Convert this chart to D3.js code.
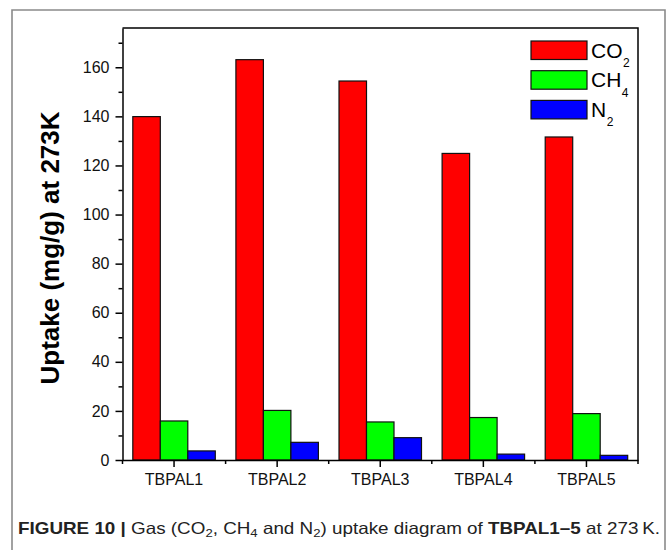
<!DOCTYPE html>
<html>
<head>
<meta charset="utf-8">
<script src="https://cdn.jsdelivr.net/npm/d3@7"></script>
<style>
  html, body { margin: 0; padding: 0; background: #fff; }
  svg { display: block; }
</style>
</head>
<body>
<svg id="chart" width="669" height="550"></svg>
<script>
// Gas uptake (mg/g) at 273 K for each sample
const categories = ["TBPAL1", "TBPAL2", "TBPAL3", "TBPAL4", "TBPAL5"];
const seriesKeys = ["CO2", "CH4", "N2"];
const co2Values = [139.9, 163.1, 154.4, 124.9, 131.6];
const ch4Values = [15.9, 20.2, 15.5, 17.3, 18.9];
const n2Values  = [3.7, 7.2, 9.1, 2.4, 1.9];
const seriesColors = ["#ff0000", "#00ff00", "#0000ff"];
const legendNames = [["CO", "2"], ["CH", "4"], ["N", "2"]];
const yMajorTicks = [0, 20, 40, 60, 80, 100, 120, 140, 160];
const yMinorTicks = [10, 30, 50, 70, 90, 110, 130, 150, 170];
const yTitle = "Uptake (mg/g) at 273K";

const valuesByKey = { CO2: co2Values, CH4: ch4Values, N2: n2Values };

const svg = d3.select("#chart");
const plot = { left: 122.5, right: 638, top: 28, bottom: 460 };

// Figure frame (open at the bottom)
svg.append("path")
  .attr("d", "M12,552 L12,10 L665,10 L665,552")
  .attr("fill", "none")
  .attr("stroke", "#8a8a8a")
  .attr("stroke-width", 1.6);

const x = d3.scaleBand().domain(categories).range([plot.left, plot.right]).padding(0);
const xSub = d3.scaleBand().domain(seriesKeys).range([0, x.bandwidth()])
  .paddingInner(0).paddingOuter(0.375);
const y = d3.scaleLinear().domain([0, 176]).range([plot.bottom, plot.top]);

// Bars
const groups = svg.append("g").selectAll("g")
  .data(categories)
  .join("g")
  .attr("transform", d => `translate(${x(d)},0)`);

groups.selectAll("rect")
  .data((d, i) => seriesKeys.map((k, j) => ({ key: k, value: valuesByKey[k][i], color: seriesColors[j] })))
  .join("rect")
  .attr("x", d => xSub(d.key))
  .attr("width", xSub.bandwidth())
  .attr("y", d => y(d.value))
  .attr("height", d => y(0) - y(d.value))
  .attr("fill", d => d.color)
  .attr("stroke", "#111")
  .attr("stroke-width", 1.2);

// Plot frame: top and right edges
svg.append("path")
  .attr("d", `M${plot.left},${plot.top} L${plot.right},${plot.top} L${plot.right},${plot.bottom}`)
  .attr("fill", "none")
  .attr("stroke", "#000")
  .attr("stroke-width", 1.5);

const tickFont = "'Liberation Sans', Arial, sans-serif";

// Y axis: major ticks with labels, minor ticks between
svg.append("g")
  .attr("transform", `translate(${plot.left},0)`)
  .call(d3.axisLeft(y).tickValues(yMajorTicks).tickSize(7).tickSizeOuter(0).tickPadding(6));
svg.append("g")
  .attr("transform", `translate(${plot.left},0)`)
  .call(d3.axisLeft(y).tickValues(yMinorTicks).tickSize(4).tickSizeOuter(0).tickFormat(""))
  .call(g => g.select(".domain").remove());

// X axis: category ticks with labels, minor ticks at group boundaries
svg.append("g")
  .attr("transform", `translate(0,${plot.bottom})`)
  .call(d3.axisBottom(x).tickSize(7).tickSizeOuter(0).tickPadding(7));
const boundaries = categories.map(c => x(c)).concat([x.range()[1]]);
svg.append("g")
  .attr("transform", `translate(0,${plot.bottom})`)
  .selectAll("line")
  .data(boundaries)
  .join("line")
  .attr("x1", d => d).attr("x2", d => d)
  .attr("y1", 0).attr("y2", 4)
  .attr("stroke", "#000").attr("stroke-width", 1.5);

svg.selectAll(".tick line").attr("stroke", "#000").attr("stroke-width", 1.5);
svg.selectAll(".domain").attr("stroke", "#000").attr("stroke-width", 1.5);
svg.selectAll(".tick text")
  .attr("font-family", tickFont)
  .attr("font-size", 16)
  .attr("fill", "#111");

// Y axis title
svg.append("text")
  .attr("transform", "translate(59,248) rotate(-90)")
  .attr("text-anchor", "middle")
  .attr("font-family", tickFont)
  .attr("font-weight", "bold")
  .attr("font-size", 26)
  .attr("fill", "#000")
  .text(yTitle);

// Legend
const legend = svg.append("g").attr("transform", "translate(531,41)");
const legendRows = legend.selectAll("g")
  .data(seriesKeys)
  .join("g")
  .attr("transform", (d, i) => `translate(0,${i * 29.7})`);
legendRows.append("rect")
  .attr("width", 56).attr("height", 18.5)
  .attr("fill", (d, i) => seriesColors[i])
  .attr("stroke", "#111").attr("stroke-width", 1.2);
const legendText = legendRows.append("text")
  .attr("x", 60).attr("y", 16.5)
  .attr("font-family", tickFont)
  .attr("font-size", 21)
  .attr("fill", "#000");
legendText.append("tspan").text((d, i) => legendNames[i][0]);
legendText.append("tspan")
  .attr("font-size", 12).attr("dy", 9.5).attr("dx", 0.5)
  .text((d, i) => legendNames[i][1]);

// Figure caption
const cap = svg.append("text")
  .attr("x", 18).attr("y", 534)
  .attr("font-family", tickFont)
  .attr("font-size", 16.5)
  .attr("fill", "#222")
  .attr("textLength", 642)
  .attr("lengthAdjust", "spacingAndGlyphs");
const parts = [
  ["FIGURE 10 |", "bold", null],
  [" Gas (CO", "normal", null], ["2", "normal", "sub"],
  [", CH", "normal", null], ["4", "normal", "sub"],
  [" and N", "normal", null], ["2", "normal", "sub"],
  [") uptake diagram of ", "normal", null],
  ["TBPAL1–5", "bold", null],
  [" at 273\u2009K.", "normal", null]
];
let lowered = false;
parts.forEach(([t, w, kind]) => {
  const ts = cap.append("tspan").attr("font-weight", w).text(t);
  if (kind === "sub") {
    ts.attr("font-size", 11.5).attr("dy", 3);
    lowered = true;
  } else if (lowered) {
    ts.attr("dy", -3);
    lowered = false;
  }
});
</script>
</body>
</html>
